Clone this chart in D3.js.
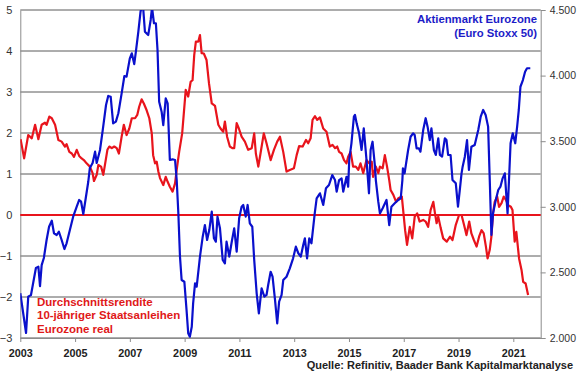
<!DOCTYPE html>
<html>
<head>
<meta charset="utf-8">
<script src="https://cdn.jsdelivr.net/npm/d3@7"></script>
<style>
body { margin: 0; background: #fff; }
text { font-family: "Liberation Sans", Arial, sans-serif; }
</style>
</head>
<body>
<svg id="chart" width="580" height="375"></svg>
<script>
//////////////////////////////////////////////////////////////////////////////
// Data (decimal year, value)

var yearTicks  = [2003, 2005, 2007, 2009, 2011, 2013, 2015, 2017, 2019, 2021];
var leftTicks  = [-3, -2, -1, 0, 1, 2, 3, 4, 5];
var rightTicks = [2000, 2500, 3000, 3500, 4000, 4500];

var stoxxLabel = ["Aktienmarkt Eurozone", "(Euro Stoxx 50)"];
var yieldLabel = ["Durchschnittsrendite", "10-jähriger Staatsanleihen", "Eurozone real"];
var sourceText = "Quelle: Refinitiv, Baader Bank Kapitalmarktanalyse";

// Euro Stoxx 50, right axis
var stoxx = [
[2003.00,2341],[2003.21,2038],[2003.29,2315],[2003.39,2328],[2003.47,2419],[2003.57,2534],[2003.66,2543],[2003.72,2396],
[2003.78,2556],[2003.86,2610],[2003.96,2747],[2004.05,2848],[2004.15,2894],[2004.23,2798],[2004.33,2785],[2004.41,2810],
[2004.51,2747],[2004.61,2678],[2004.69,2722],[2004.81,2823],[2004.93,2925],[2005.06,3001],[2005.15,3052],[2005.22,3039],
[2005.30,2945],[2005.39,3067],[2005.48,3189],[2005.54,3296],[2005.64,3334],[2005.73,3420],[2005.79,3334],[2005.91,3433],
[2006.01,3585],[2006.13,3776],[2006.21,3845],[2006.30,3839],[2006.39,3636],[2006.49,3649],[2006.58,3713],[2006.70,3865],
[2006.80,3997],[2006.88,3992],[2007.00,4132],[2007.07,4170],[2007.16,4088],[2007.22,4182],[2007.31,4335],[2007.39,4487],
[2007.47,4560],[2007.55,4335],[2007.67,4309],[2007.76,4424],[2007.81,4520],[2007.88,4399],[2007.95,4399],[2008.01,4195],
[2008.07,3801],[2008.16,3725],[2008.22,3623],[2008.31,3827],[2008.38,3789],[2008.46,3357],[2008.56,3362],[2008.65,3357],
[2008.71,3204],[2008.77,2953],[2008.83,2620],[2008.89,2442],[2008.99,2429],[2009.07,2213],[2009.13,2036],[2009.19,2010],
[2009.26,2086],[2009.31,2264],[2009.38,2417],[2009.44,2391],[2009.56,2620],[2009.66,2772],[2009.74,2861],[2009.82,2747],
[2009.90,2823],[2009.99,2963],[2010.07,2760],[2010.14,2734],[2010.20,2925],[2010.29,2836],[2010.39,2595],[2010.47,2569],
[2010.53,2734],[2010.63,2620],[2010.72,2734],[2010.81,2836],[2010.90,2658],[2010.99,2912],[2011.08,3001],[2011.14,3014],
[2011.23,2925],[2011.30,3014],[2011.38,2874],[2011.47,2848],[2011.54,2595],[2011.63,2341],[2011.71,2188],[2011.81,2379],
[2011.91,2315],[2011.99,2328],[2012.05,2404],[2012.14,2505],[2012.21,2467],[2012.30,2290],[2012.38,2112],[2012.45,2277],
[2012.54,2328],[2012.60,2442],[2012.72,2467],[2012.84,2531],[2012.96,2607],[2013.06,2696],[2013.15,2646],[2013.24,2620],
[2013.33,2709],[2013.39,2760],[2013.47,2607],[2013.55,2760],[2013.63,2722],[2013.75,2950],[2013.82,3065],[2013.94,3103],
[2014.06,3014],[2014.16,3141],[2014.27,3166],[2014.39,3242],[2014.49,3204],[2014.55,3115],[2014.64,3204],[2014.73,3217],
[2014.79,3115],[2014.91,3229],[2014.97,3153],[2015.01,3357],[2015.09,3484],[2015.18,3687],[2015.22,3700],[2015.28,3636],
[2015.37,3560],[2015.46,3433],[2015.54,3598],[2015.64,3357],[2015.73,3103],[2015.79,3433],[2015.86,3496],[2015.95,3306],
[2015.98,3204],[2016.07,3039],[2016.13,2950],[2016.23,2989],[2016.37,3052],[2016.47,2861],[2016.55,3001],[2016.67,3027],
[2016.80,3052],[2016.89,3065],[2016.95,3204],[2016.97,3293],[2017.03,3255],[2017.16,3433],[2017.25,3534],[2017.34,3560],
[2017.40,3547],[2017.47,3446],[2017.55,3446],[2017.61,3420],[2017.71,3585],[2017.80,3675],[2017.87,3611],[2017.95,3509],
[2018.01,3598],[2018.10,3433],[2018.17,3395],[2018.26,3522],[2018.32,3395],[2018.40,3382],[2018.50,3522],[2018.56,3509],
[2018.62,3395],[2018.71,3395],[2018.78,3204],[2018.90,3179],[2018.98,3001],[2019.04,3115],[2019.11,3255],[2019.15,3306],
[2019.23,3382],[2019.31,3509],[2019.38,3281],[2019.47,3458],[2019.59,3471],[2019.72,3585],[2019.81,3687],[2019.90,3738],
[2019.99,3700],[2020.08,3611],[2020.14,3204],[2020.20,2785],[2020.26,2950],[2020.36,3052],[2020.45,3128],[2020.53,3153],
[2020.61,3217],[2020.69,3255],[2020.79,2950],[2020.90,3484],[2020.98,3560],[2021.07,3484],[2021.14,3611],[2021.20,3738],
[2021.26,3915],[2021.35,3966],[2021.43,4030],[2021.50,4056],[2021.62,4056]
];

// real 10y government bond yield, left axis
var realYield = [
[2003.01,1.85],[2003.14,1.38],[2003.29,1.95],[2003.42,1.87],[2003.54,2.20],[2003.66,1.85],[2003.78,2.20],[2003.90,2.25],
[2003.96,2.20],[2004.06,2.40],[2004.15,2.36],[2004.27,2.20],[2004.39,1.83],[2004.51,1.79],[2004.63,1.67],[2004.69,1.73],
[2004.79,1.54],[2004.88,1.50],[2004.96,1.42],[2005.06,1.59],[2005.15,1.44],[2005.24,1.38],[2005.32,1.34],[2005.42,1.26],
[2005.54,1.18],[2005.64,1.02],[2005.69,0.83],[2005.79,0.98],[2005.85,1.22],[2005.95,1.18],[2006.03,0.98],[2006.18,1.59],
[2006.25,1.67],[2006.34,1.63],[2006.43,1.67],[2006.52,1.63],[2006.60,1.50],[2006.70,1.91],[2006.78,2.20],[2006.88,1.95],
[2006.98,2.11],[2007.07,2.36],[2007.19,2.36],[2007.27,2.44],[2007.34,2.64],[2007.43,2.82],[2007.51,2.72],[2007.61,2.56],
[2007.71,2.36],[2007.80,1.99],[2007.85,1.46],[2007.92,1.26],[2007.98,1.30],[2008.04,1.06],[2008.10,0.90],[2008.22,0.73],
[2008.31,0.93],[2008.38,0.81],[2008.46,0.69],[2008.56,0.57],[2008.65,0.77],[2008.71,1.10],[2008.80,1.54],[2008.91,1.99],
[2008.97,2.48],[2009.04,3.05],[2009.13,2.89],[2009.22,3.25],[2009.29,3.29],[2009.35,3.90],[2009.41,4.23],[2009.50,4.23],
[2009.56,4.39],[2009.62,3.95],[2009.70,3.94],[2009.80,3.78],[2009.89,3.21],[2009.99,2.72],[2010.11,2.66],[2010.23,2.20],
[2010.31,2.11],[2010.41,2.03],[2010.47,2.28],[2010.55,1.91],[2010.65,1.67],[2010.74,1.63],[2010.81,1.63],[2010.90,2.24],
[2010.98,2.11],[2011.08,1.91],[2011.20,1.79],[2011.32,1.59],[2011.45,1.63],[2011.54,1.99],[2011.60,1.50],[2011.69,1.18],
[2011.77,1.50],[2011.89,1.99],[2011.99,1.75],[2012.14,1.34],[2012.26,1.59],[2012.38,1.79],[2012.48,1.91],[2012.60,1.54],
[2012.72,1.06],[2012.84,1.10],[2012.99,1.14],[2013.09,1.46],[2013.18,1.68],[2013.31,1.67],[2013.43,1.83],[2013.51,1.75],
[2013.60,1.87],[2013.67,2.32],[2013.76,2.41],[2013.84,2.32],[2013.94,2.38],[2014.06,2.11],[2014.18,2.03],[2014.30,1.67],
[2014.40,1.71],[2014.49,1.63],[2014.57,1.67],[2014.64,1.54],[2014.73,1.50],[2014.82,1.34],[2014.91,1.26],[2014.97,1.42],
[2015.06,1.54],[2015.15,1.18],[2015.25,1.18],[2015.34,1.10],[2015.42,1.26],[2015.52,1.02],[2015.64,1.34],[2015.74,1.26],
[2015.83,1.30],[2015.88,0.93],[2015.98,1.18],[2016.07,1.02],[2016.13,1.18],[2016.23,1.14],[2016.31,1.46],[2016.39,1.18],
[2016.47,0.85],[2016.52,0.61],[2016.62,0.49],[2016.72,0.32],[2016.80,0.41],[2016.93,0.45],[2017.05,-0.37],[2017.12,-0.73],
[2017.22,-0.29],[2017.31,-0.57],[2017.40,-0.04],[2017.49,0.04],[2017.58,-0.16],[2017.71,-0.12],[2017.80,-0.16],[2017.89,-0.29],
[2017.98,0.12],[2018.08,0.32],[2018.14,0.04],[2018.20,-0.20],[2018.26,-0.04],[2018.35,-0.32],[2018.44,-0.57],[2018.57,-0.65],
[2018.69,-0.53],[2018.78,-0.61],[2018.90,-0.24],[2019.02,0.00],[2019.11,0.00],[2019.20,-0.24],[2019.29,-0.49],[2019.39,-0.16],
[2019.47,-0.45],[2019.56,-0.61],[2019.66,-0.77],[2019.75,-0.53],[2019.84,-0.37],[2019.92,-0.45],[2020.00,-0.77],[2020.06,-1.06],
[2020.14,-0.85],[2020.20,-0.53],[2020.26,0.04],[2020.32,0.32],[2020.41,0.45],[2020.48,0.20],[2020.57,0.29],[2020.65,0.45],
[2020.73,0.37],[2020.81,0.24],[2020.91,0.20],[2020.97,0.12],[2021.05,-0.65],[2021.11,-0.41],[2021.21,-1.06],[2021.30,-1.34],
[2021.36,-1.63],[2021.45,-1.67],[2021.54,-1.95]
];

//////////////////////////////////////////////////////////////////////////////
// Scales

var plotLeft = 20.3, plotRight = 540.7, plotTop = 10, plotBottom = 338;

var xScale  = d3.scaleLinear().domain([2003, 2022]).range([plotLeft, plotRight]);
var yLeft   = d3.scaleLinear().domain([-3, 5]).range([plotBottom, plotTop]);
var yRight  = d3.scaleLinear().domain([2000, 4500]).range([plotBottom, plotTop]);

var de = d3.formatLocale({decimal: ",", thousands: ".", grouping: [3], currency: ["", " €"]});
var fmtRight = de.format(",");

var blue = "#0a10cc", red = "#e8141c", grid = "#5a5a5a", axisGrey = "#8c8c8c";

var svg = d3.select("#chart");

svg.append("defs").append("clipPath").attr("id", "plotClip")
    .append("rect")
    .attr("x", plotLeft).attr("y", plotTop)
    .attr("width", plotRight - plotLeft).attr("height", plotBottom - plotTop);

// gridlines
svg.append("g")
    .selectAll("line")
    .data(leftTicks)
    .enter()
    .append("line")
    .attr("x1", plotLeft).attr("x2", plotRight)
    .attr("y1", function(d) { return yLeft(d); })
    .attr("y2", function(d) { return yLeft(d); })
    .attr("stroke", grid)
    .attr("stroke-width", 1);

// left axis
var leftAxis = svg.append("g")
    .attr("transform", "translate(" + plotLeft + ",0)")
    .call(d3.axisLeft(yLeft).tickValues(leftTicks).tickSize(0).tickPadding(8));
leftAxis.select(".domain").attr("stroke", axisGrey);
leftAxis.selectAll("text")
    .attr("fill", "#333")
    .style("font-size", "11px");

// right axis
var rightAxis = svg.append("g")
    .attr("transform", "translate(" + plotRight + ",0)")
    .call(d3.axisRight(yRight).tickValues(rightTicks).tickSize(5).tickSizeOuter(0).tickPadding(4).tickFormat(fmtRight));
rightAxis.select(".domain").attr("stroke", axisGrey);
rightAxis.selectAll("line").attr("stroke", axisGrey);
rightAxis.selectAll("text")
    .attr("fill", "#333")
    .style("font-size", "10.5px");

// bottom axis
var bottomAxis = svg.append("g")
    .attr("transform", "translate(0," + plotBottom + ")")
    .call(d3.axisBottom(xScale).tickValues(yearTicks).tickSize(4).tickSizeOuter(0).tickPadding(7).tickFormat(d3.format("d")));
bottomAxis.select(".domain").attr("stroke", axisGrey);
bottomAxis.selectAll("line").attr("stroke", axisGrey);
bottomAxis.selectAll("text")
    .attr("fill", "#222")
    .style("font-size", "10.8px")
    .style("font-weight", "bold");

// zero line
svg.append("line")
    .attr("x1", plotLeft).attr("x2", plotRight)
    .attr("y1", yLeft(0)).attr("y2", yLeft(0))
    .attr("stroke", red)
    .attr("stroke-width", 2);

// series
var lineStoxx = d3.line()
    .x(function(d) { return xScale(d[0]); })
    .y(function(d) { return yRight(d[1]); });

var lineYield = d3.line()
    .x(function(d) { return xScale(d[0]); })
    .y(function(d) { return yLeft(d[1]); });

var series = svg.append("g").attr("clip-path", "url(#plotClip)");

series.append("path")
    .datum(realYield)
    .attr("d", lineYield)
    .attr("fill", "none")
    .attr("stroke", red)
    .attr("stroke-width", 2.2)
    .attr("stroke-linejoin", "round");

series.append("path")
    .datum(stoxx)
    .attr("d", lineStoxx)
    .attr("fill", "none")
    .attr("stroke", blue)
    .attr("stroke-width", 2.2)
    .attr("stroke-linejoin", "round");

// labels
svg.append("g")
    .selectAll("text")
    .data(stoxxLabel)
    .enter()
    .append("text")
    .attr("x", 537)
    .attr("y", function(d, i) { return 23 + i * 14; })
    .attr("text-anchor", "end")
    .attr("fill", "#1c1cc8")
    .style("font-size", "11.3px")
    .style("font-weight", "bold")
    .text(function(d) { return d; });

svg.append("g")
    .selectAll("text")
    .data(yieldLabel)
    .enter()
    .append("text")
    .attr("x", 37)
    .attr("y", function(d, i) { return 306 + i * 13.3; })
    .attr("fill", "#e01818")
    .style("font-size", "11.5px")
    .style("font-weight", "bold")
    .text(function(d) { return d; });

svg.append("text")
    .attr("x", 573)
    .attr("y", 369)
    .attr("text-anchor", "end")
    .attr("fill", "#222")
    .style("font-size", "11px")
    .style("font-weight", "bold")
    .text(sourceText);
</script>
</body>
</html>
